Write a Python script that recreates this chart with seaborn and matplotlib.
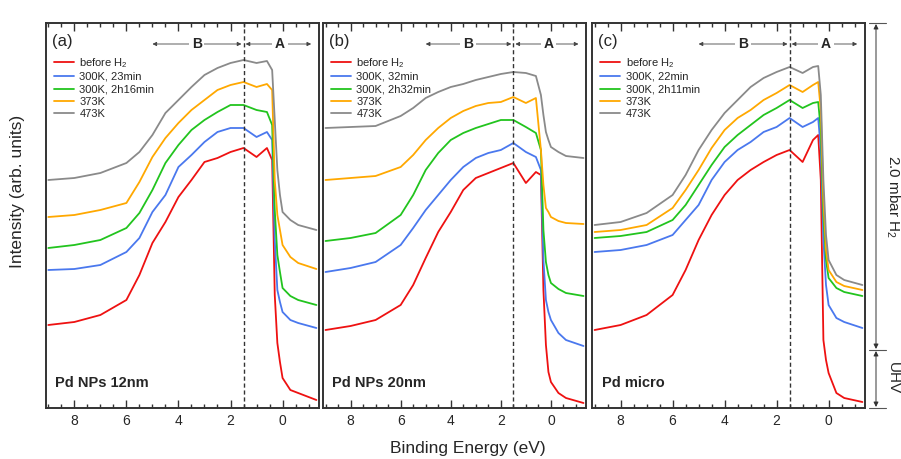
import matplotlib
matplotlib.use('Agg')
import matplotlib.pyplot as plt
from matplotlib.ticker import MultipleLocator
import seaborn as sns

# binding energy grid (eV)
energy = [9.0, 8.0, 7.0, 6.0, 5.5, 5.0, 4.5, 4.0, 3.5, 3.0, 2.5, 2.0, 1.5,
          1.0, 0.6, 0.4, 0.3, 0.2, 0.1, 0.0, -0.3, -0.6, -1.3]

# (a) Pd NPs 12nm
a_before = [83, 86, 93, 108, 133, 165, 186, 211, 228, 246, 250, 256, 260,
            251, 260, 248, 113, 65, 46, 30, 18, 15, 8]
a_300k_1 = [138, 139, 143, 156, 170, 196, 213, 241, 253, 266, 276, 280, 280,
            271, 276, 268, 168, 118, 106, 96, 88, 85, 80]
a_300k_2 = [160, 163, 168, 180, 195, 218, 245, 263, 278, 288, 296, 303, 303,
            298, 296, 283, 198, 153, 136, 120, 112, 108, 103]
a_373k = [191, 193, 198, 205, 226, 251, 270, 285, 298, 308, 318, 323, 326,
          321, 324, 318, 228, 193, 178, 163, 151, 145, 139]
a_473k = [228, 230, 235, 245, 256, 273, 295, 308, 321, 333, 340, 345, 348,
          345, 347, 338, 288, 238, 213, 196, 188, 183, 178]

# (b) Pd NPs 20nm
b_before = [78, 82, 88, 103, 123, 150, 176, 196, 218, 230, 235, 240, 245,
            225, 236, 233, 118, 63, 36, 26, 15, 10, 5]
b_300k_1 = [136, 140, 146, 163, 180, 198, 213, 228, 241, 250, 255, 258, 265,
            256, 251, 238, 148, 108, 96, 88, 75, 68, 62]
b_300k_2 = [167, 170, 175, 193, 213, 238, 255, 268, 275, 280, 284, 288, 288,
            281, 275, 258, 178, 146, 133, 125, 119, 115, 112]
b_373k = [228, 230, 232, 241, 253, 268, 280, 290, 297, 302, 305, 306, 311,
          305, 310, 258, 223, 200, 196, 191, 187, 185, 184]
b_473k = [280, 281, 282, 292, 300, 310, 316, 321, 324, 328, 331, 334, 336,
          335, 332, 313, 293, 276, 268, 261, 256, 252, 250]

# (c) Pd micro
c_before = [78, 83, 93, 113, 138, 168, 193, 213, 228, 238, 246, 253, 258,
            246, 268, 273, 228, 68, 48, 35, 15, 10, 6]
c_300k_1 = [156, 158, 163, 173, 188, 203, 228, 246, 258, 266, 276, 281, 290,
            281, 286, 290, 258, 168, 123, 103, 90, 86, 80]
c_300k_2 = [170, 172, 176, 188, 203, 223, 243, 261, 273, 283, 293, 300, 308,
            300, 305, 306, 278, 193, 148, 130, 120, 116, 112]
c_373k = [176, 178, 183, 200, 218, 238, 260, 278, 290, 298, 308, 315, 323,
          316, 323, 326, 298, 208, 158, 138, 126, 122, 118]
c_473k = [183, 186, 195, 213, 233, 258, 278, 295, 308, 321, 330, 336, 341,
          335, 341, 342, 313, 228, 173, 148, 133, 128, 123]

labels_a = [r'before $\mathregular{H_2}$', '300K, 23min', '300K, 2h16min', '373K', '473K']
labels_b = [r'before $\mathregular{H_2}$', '300K, 32min', '300K, 2h32min', '373K', '473K']
labels_c = [r'before $\mathregular{H_2}$', '300K, 22min', '300K, 2h11min', '373K', '473K']
colors = ['#ee1111', '#4a78ee', '#22c41e', '#ffa800', '#8a8a8a']

sns.set_style('ticks')
plt.rcParams['font.family'] = ['Liberation Sans', 'DejaVu Sans']
plt.rcParams['mathtext.fontset'] = 'custom'
plt.rcParams['mathtext.rm'] = 'Liberation Sans'

W, H = 901, 459
fig = plt.figure(figsize=(W / 100, H / 100), dpi=100)

panels = [
    ((45.7, 319), '(a)', 'Pd NPs 12nm', labels_a,
     [a_before, a_300k_1, a_300k_2, a_373k, a_473k]),
    ((323, 586), '(b)', 'Pd NPs 20nm', labels_b,
     [b_before, b_300k_1, b_300k_2, b_373k, b_473k]),
    ((592, 865), '(c)', 'Pd micro', labels_c,
     [c_before, c_300k_1, c_300k_2, c_373k, c_473k]),
]
top_px, bot_px = 23, 408

for (x0, x1), tag, name, labels, series in panels:
    ax = fig.add_axes([x0 / W, 1 - bot_px / H, (x1 - x0) / W, (bot_px - top_px) / H])
    for y, lab, col in zip(series, labels, colors):
        sns.lineplot(x=energy, y=y, color=col, label=lab, lw=1.3, ax=ax)
    ax.set_xlim(9.1, -1.4)
    ax.set_ylim(0, 385)
    ax.set_yticks([])
    ax.set_xticks([8, 6, 4, 2, 0])
    ax.xaxis.set_minor_locator(MultipleLocator(0.5))
    ax.tick_params(axis='x', which='both', direction='in', top=True,
                   labelsize=10, color='#333333', pad=4)
    ax.tick_params(axis='x', which='major', length=6, width=1)
    ax.tick_params(axis='x', which='minor', length=3, width=1)
    for s in ax.spines.values():
        s.set_linewidth(1.4)
        s.set_color('#333333')

    ax.axvline(1.5, color='#333333', lw=1, ls=(0, (3, 2)))

    # B / A ranges
    h = 364
    ax.annotate('', xy=(5.0, h), xytext=(1.58, h),
                arrowprops=dict(arrowstyle='<|-|>', color='#444444', lw=0.6,
                                mutation_scale=6, shrinkA=0, shrinkB=0))
    ax.annotate('', xy=(1.42, h), xytext=(-1.1, h),
                arrowprops=dict(arrowstyle='<|-|>', color='#444444', lw=0.6,
                                mutation_scale=6, shrinkA=0, shrinkB=0))
    for xt, t in [(3.3, 'B'), (0.1, 'A')]:
        ax.text(xt, h, t, ha='center', va='center', fontsize=10, fontweight='bold',
                bbox=dict(facecolor='white', edgecolor='none', pad=2))

    ax.text(0.023, 0.952, tag, transform=ax.transAxes, fontsize=12,
            ha='left', va='center')
    ax.text(0.035, 0.065, name, transform=ax.transAxes, fontsize=10.5,
            fontweight='bold', ha='left', va='center')
    ax.legend(loc='upper left', bbox_to_anchor=(0.03, 0.915), frameon=False,
              fontsize=8, handlelength=1.8, handletextpad=0.5,
              labelspacing=0.22, borderpad=0, borderaxespad=0)

fig.text(18 / W, 1 - 191 / H, 'Intensity (arb. units)', rotation=90,
         ha='center', va='center', fontsize=12.5)
fig.text(468 / W, 1 - 448 / H, 'Binding Energy (eV)', ha='center',
         va='center', fontsize=12.5)

# pressure annotation on the right
xa = 876 / W
for yp in (23, 350, 408):
    fig.add_artist(plt.Line2D([869 / W, 886 / W], [1 - yp / H, 1 - yp / H],
                              color='#555555', lw=0.8))
for ya, yb in [(24, 349), (351, 407)]:
    fig.add_artist(matplotlib.patches.FancyArrowPatch(
        (xa, 1 - ya / H), (xa, 1 - yb / H), transform=fig.transFigure,
        arrowstyle='<|-|>', mutation_scale=7, color='#333333', lw=0.7,
        shrinkA=0, shrinkB=0))
fig.text(893 / W, 1 - 196 / H, r'2.0 mbar $\mathregular{H_2}$', rotation=270,
         ha='center', va='center', fontsize=11)
fig.text(893 / W, 1 - 378 / H, 'UHV', rotation=270, ha='center',
         va='center', fontsize=11)

fig.savefig('out.png', dpi=100)
